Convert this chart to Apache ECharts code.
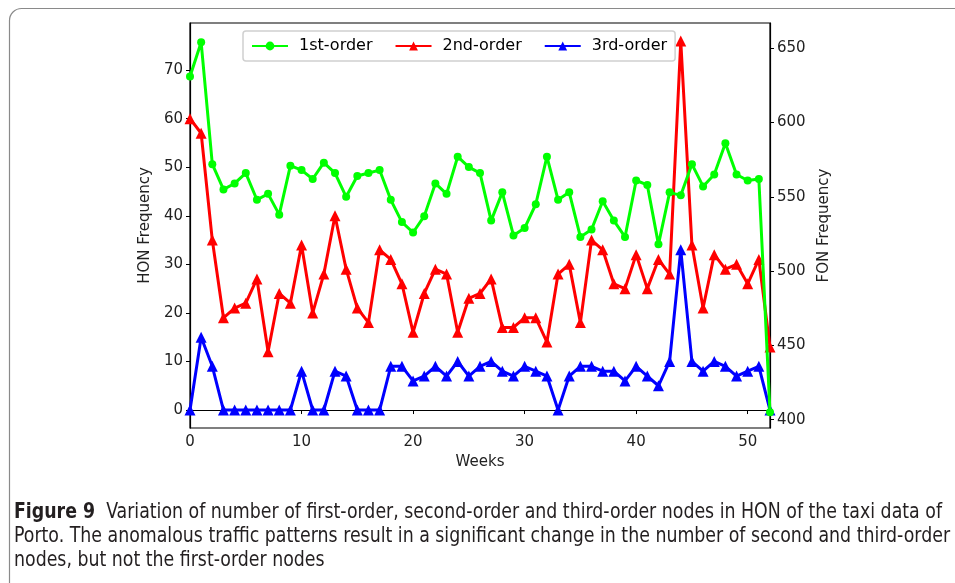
<!DOCTYPE html>
<html>
<head>
<meta charset="utf-8">
<script src="https://cdn.jsdelivr.net/npm/echarts@6/dist/echarts.min.js"></script>
<style>
html,body{margin:0;padding:0;background:#fff;}
#chart{width:955px;height:583px;}
</style>
</head>
<body>
<div id="chart"></div>
<script>
// ---- data ----
const weeks = Array.from({length: 53}, (_, i) => i);
const firstOrderFON = [631,654,572,555,559,566,548,552,538,571,568,562,573,566,550,564,566,568,548,533,526,537,559,552,577,570,566,534,553,524,529,545,577,548,553,523,528,547,534,523,561,558,518,553,551,572,557,565,586,565,561,562,405];
const secondOrderHON = [60,57,35,19,21,22,27,12,24,22,34,20,28,40,29,21,18,33,31,26,16,24,29,28,16,23,24,27,17,17,19,19,14,28,30,18,35,33,26,25,32,25,31,28,76,34,21,32,29,30,26,31,13];
const thirdOrderHON = [0,15,9,0,0,0,0,0,0,0,8,0,0,8,7,0,0,0,9,9,6,7,9,7,10,7,9,10,8,7,9,8,7,0,7,9,9,8,8,6,9,7,5,10,33,10,8,10,9,7,8,9,0];
const seriesNames = ['1st-order', '2nd-order', '3rd-order'];
const xTicks = [0, 10, 20, 30, 40, 50];
const honTicks = [0, 10, 20, 30, 40, 50, 60, 70];
const fonTicks = [400, 450, 500, 550, 600, 650];
const captionBold = 'Figure 9';
const captionLines = [
  'Variation of number of first-order, second-order and third-order nodes in HON of the taxi data of',
  'Porto. The anomalous traffic patterns result in a significant change in the number of second and third-order',
  'nodes, but not the first-order nodes'
];

const pair = arr => weeks.map((w, i) => [w, arr[i]]);
const FONT = 'DejaVu Sans';
const CAP_FONT = '"Liberation Sans Narrow", "DejaVu Sans Condensed", "Liberation Sans", sans-serif';
const CAP_SIZE = 21;

// fit caption width
const cv = document.createElement('canvas').getContext('2d');
cv.font = 'bold ' + CAP_SIZE + 'px ' + CAP_FONT;
const wBold = cv.measureText(captionBold).width;
cv.font = CAP_SIZE + 'px ' + CAP_FONT;
const wLine1 = wBold + cv.measureText('  ' + captionLines[0]).width;
const capScale = 928 / wLine1;

const chart = echarts.init(document.getElementById('chart'));
const axisLabelStyle = {color: '#222', fontFamily: FONT, fontSize: 15};

chart.setOption({
  animation: false,
  backgroundColor: '#fff',
  grid: {left: 190, right: 185, top: 23, bottom: 155, show: true, borderColor: '#000', borderWidth: 1.2, backgroundColor: 'transparent'},
  legend: {
    data: seriesNames,
    left: 243, top: 31,
    itemWidth: 36, itemHeight: 11, itemGap: 22,
    padding: [7, 8, 7, 8],
    borderColor: '#d0d0d0', borderWidth: 1.5, borderRadius: 3,
    backgroundColor: '#fff',
    textStyle: {fontFamily: FONT, fontSize: 16, color: '#000', padding: [0, 0, 0, 6]}
  },
  xAxis: {
    type: 'value', min: 0, max: 52,
    name: 'Weeks', nameLocation: 'middle', nameGap: 26,
    nameTextStyle: {fontFamily: FONT, fontSize: 15, color: '#222'},
    axisLine: {show: true, lineStyle: {color: '#000', width: 1.2}},
    axisTick: {show: true, length: 4, lineStyle: {color: '#000'}, customValues: xTicks},
    axisLabel: Object.assign({customValues: xTicks, margin: 7}, axisLabelStyle),
    splitLine: {show: false}
  },
  yAxis: [{
    type: 'value', min: -3.7, max: 79.7, position: 'left',
    name: 'HON Frequency', nameLocation: 'middle', nameGap: 25, nameRotate: 90,
    nameTextStyle: {fontFamily: FONT, fontSize: 15, color: '#222'},
    axisLine: {show: true, lineStyle: {color: '#000', width: 1.2}},
    axisTick: {show: true, length: 4, lineStyle: {color: '#000'}, customValues: honTicks},
    axisLabel: Object.assign({customValues: honTicks, margin: 7}, axisLabelStyle),
    splitLine: {show: false}
  }, {
    type: 'value', min: 394.4, max: 667, position: 'right',
    name: 'FON Frequency', nameLocation: 'middle', nameGap: 41, nameRotate: 90,
    nameTextStyle: {fontFamily: FONT, fontSize: 15, color: '#222'},
    axisLine: {show: true, lineStyle: {color: '#000', width: 1.2}},
    axisTick: {show: true, length: 4, lineStyle: {color: '#000'}, customValues: fonTicks},
    axisLabel: Object.assign({customValues: fonTicks, margin: 7}, axisLabelStyle),
    splitLine: {show: false}
  }],
  series: [{
    name: seriesNames[0], type: 'line', yAxisIndex: 1, z: 5,
    data: pair(firstOrderFON),
    symbol: 'circle', symbolSize: 8, showAllSymbol: true,
    lineStyle: {color: '#00ff00', width: 3},
    itemStyle: {color: '#00ff00', borderWidth: 0}
  }, {
    name: seriesNames[1], type: 'line', yAxisIndex: 0, z: 3,
    data: pair(secondOrderHON),
    symbol: 'triangle', symbolSize: 11, showAllSymbol: true,
    lineStyle: {color: '#ff0000', width: 3},
    itemStyle: {color: '#ff0000', borderWidth: 0}
  }, {
    name: seriesNames[2], type: 'line', yAxisIndex: 0, z: 4,
    data: pair(thirdOrderHON),
    symbol: 'triangle', symbolSize: 11, showAllSymbol: true,
    lineStyle: {color: '#0000ff', width: 3},
    itemStyle: {color: '#0000ff', borderWidth: 0}
  }],
  graphic: [{
    type: 'rect', left: 7, top: 6, z: -10, silent: true,
    shape: {width: 1000, height: 600, r: 12},
    style: {fill: 'none', stroke: '#8a8a8a', lineWidth: 1.2}
  }, {
    type: 'group', left: 14, top: 502, scaleX: capScale, originX: 0,
    children: [{
      type: 'text', left: 0, top: 0,
      style: {
        text: '{b|' + captionBold + '}  ' + captionLines[0],
        rich: {b: {fontWeight: 'bold', fontFamily: CAP_FONT, fontSize: CAP_SIZE, fill: '#231f20'}},
        font: CAP_SIZE + 'px ' + CAP_FONT, fill: '#231f20'
      }
    }, {
      type: 'text', left: 0, top: 24,
      style: {text: captionLines[1], font: CAP_SIZE + 'px ' + CAP_FONT, fill: '#231f20'}
    }, {
      type: 'text', left: 0, top: 48,
      style: {text: captionLines[2], font: CAP_SIZE + 'px ' + CAP_FONT, fill: '#231f20'}
    }]
  }]
});
</script>
</body>
</html>
